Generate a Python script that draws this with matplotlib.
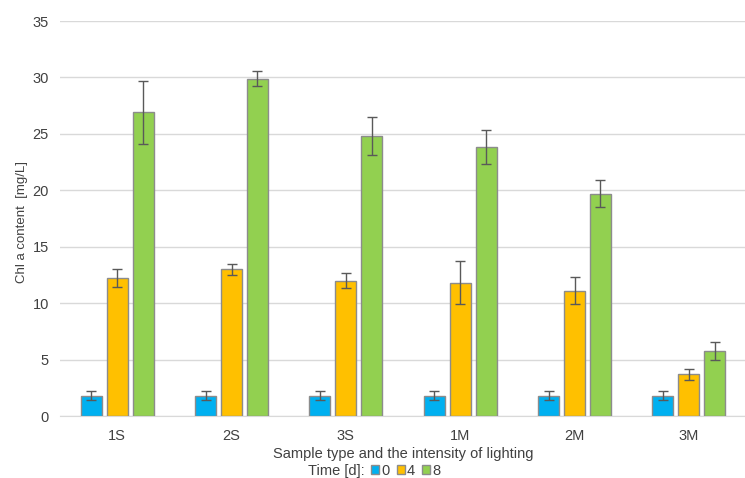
import matplotlib.pyplot as plt
import numpy as np
from matplotlib.patches import Patch

plt.rcParams['font.family'] = ['Liberation Sans', 'DejaVu Sans']

samples = ['1S', '2S', '3S', '1M', '2M', '3M']
times = ['0', '4', '8']
day0 = [1.8, 1.8, 1.8, 1.8, 1.8, 1.8]
day4 = [12.2, 13.0, 12.0, 11.8, 11.1, 3.7]
day8 = [26.9, 29.9, 24.8, 23.8, 19.7, 5.8]
err0 = [0.4, 0.4, 0.4, 0.4, 0.4, 0.4]
err4 = [0.8, 0.5, 0.7, 1.9, 1.2, 0.5]
err8 = [2.8, 0.7, 1.7, 1.5, 1.2, 0.8]

colors = ['#00B0F0', '#FFC000', '#92D050']
txt = '#404040'

fig = plt.figure(figsize=(7.45, 4.78), dpi=100)
ax = fig.add_axes([60/745, 1 - 416/478, 686/745, 395/478])

x = np.arange(len(samples))
step = 0.227
width = 0.185
for i, (vals, errs) in enumerate(zip([day0, day4, day8], [err0, err4, err8])):
    ax.bar(x + (i - 1) * step, vals, width, color=colors[i], edgecolor='#8c8c8c',
           linewidth=1, yerr=errs, capsize=3.5,
           error_kw={'ecolor': '#595959', 'elinewidth': 1, 'capthick': 1}, zorder=3)

ax.set_xlim(-0.5, 5.5)
ax.set_ylim(0, 35)
ax.set_yticks(range(0, 36, 5))
ax.set_xticks(x)
ax.set_xticklabels(samples)
ax.yaxis.grid(True, color='#d9d9d9', linewidth=1, zorder=0)
for s in ['top', 'right', 'left']:
    ax.spines[s].set_visible(False)
ax.spines['bottom'].set_color('#d9d9d9')
ax.tick_params(axis='both', length=0, labelsize=10.5, colors=txt, pad=8)
ax.tick_params(axis='x', pad=9)

ax.set_ylabel('Chl a content  [mg/L]', fontsize=9.5, color=txt)
ax.yaxis.set_label_coords(-0.047, 0.49)
ax.set_xlabel('Sample type and the intensity of lighting', fontsize=10.5, color=txt, labelpad=3)

ly = 1 - 471/478
fig.text(308/745, ly, 'Time [d]:', fontsize=10.5, color=txt, ha='left', va='center')
handles = [Patch(facecolor=c, edgecolor='#8c8c8c') for c in colors]
leg = fig.legend(handles, times, loc='center left', bbox_to_anchor=(371/745, ly),
                 ncol=3, frameon=False, fontsize=10.5, handlelength=0.55,
                 handleheight=0.55, handletextpad=0.15, columnspacing=0.5,
                 borderpad=0, borderaxespad=0)
for t in leg.get_texts():
    t.set_color(txt)

fig.savefig('out.png', dpi=100)
